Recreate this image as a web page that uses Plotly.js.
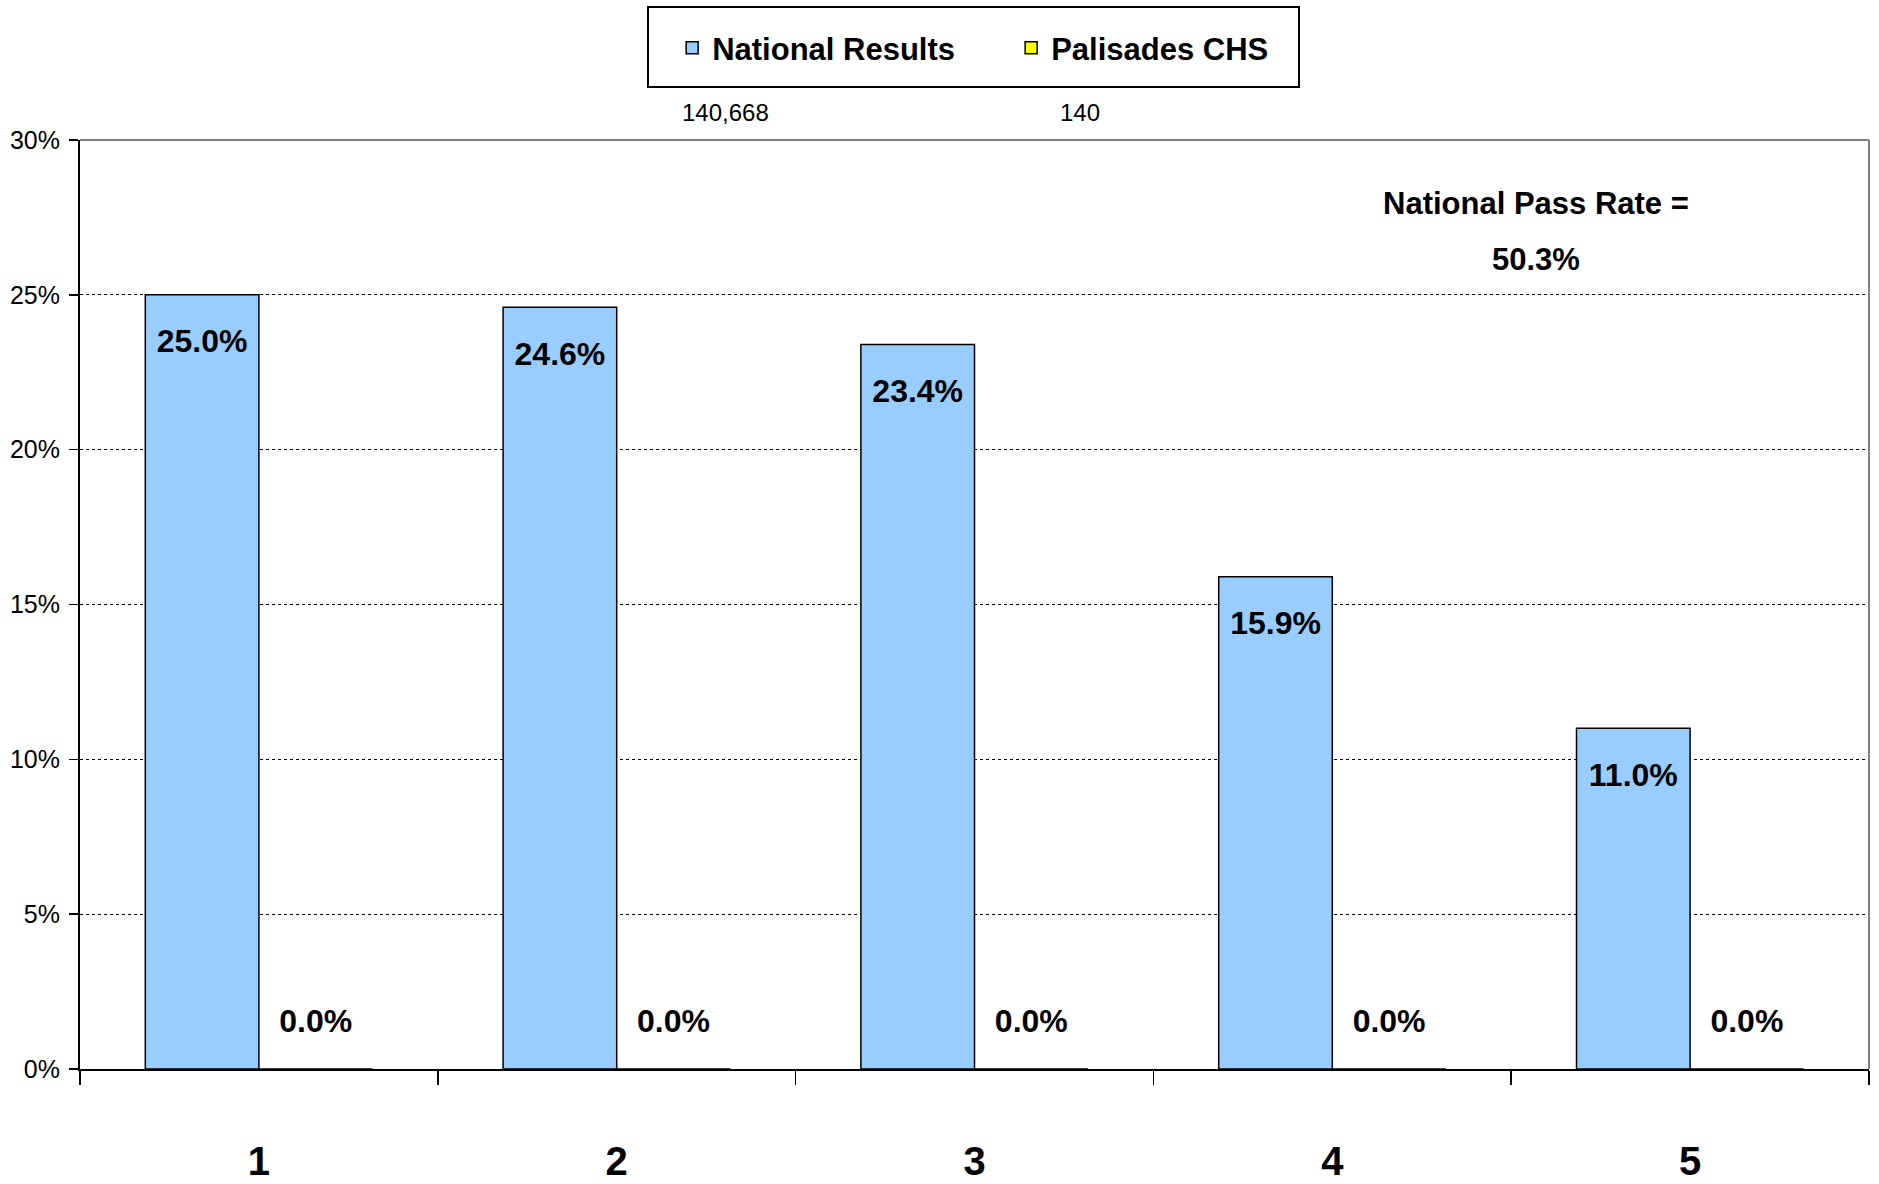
<!DOCTYPE html>
<html>
<head>
<meta charset="utf-8">
<script src="https://cdn.plot.ly/plotly-3.0.1.min.js"></script>
<style>html,body{margin:0;padding:0;background:#fff;}#chart{width:1879px;height:1184px;}</style>
</head>
<body>
<div id="chart"></div>
<script>
const categories = ["1", "2", "3", "4", "5"];
const nationalResults = [25.0, 24.6, 23.4, 15.9, 11.0];
const palisadesCHS = [0.0, 0.0, 0.0, 0.0, 0.0];
const seriesNames = ["National Results", "Palisades CHS"];
const sampleSizes = ["140,668", "140"];
const passRateLines = ["National Pass Rate =", "50.3%"];
const yTickVals = [0, 5, 10, 15, 20, 25, 30];
const yTickText = ["0%", "5%", "10%", "15%", "20%", "25%", "30%"];

const BOLD = '"Liberation Sans", Arial, sans-serif';
const REG = '"Liberation Sans", Arial, sans-serif';

const traces = [
  {
    type: 'bar', name: seriesNames[0], x: categories, y: nationalResults,
    marker: {color: '#99CCFF', line: {color: '#000', width: 1.5}},
    texttemplate: '<span style="font-size:14px"> </span><br>%{y:.1f}%', textposition: 'inside', insidetextanchor: 'end',
    textangle: 0, constraintext: 'none',
    insidetextfont: {family: BOLD, size: 32, color: '#000', weight: 'bold'},
    cliponaxis: false, hoverinfo: 'skip'
  },
  {
    type: 'bar', name: seriesNames[1], x: categories, y: palisadesCHS,
    marker: {color: '#FFFF00', line: {color: '#000', width: 1.5}},
    texttemplate: '<span style="font-size:32px">%{y:.1f}%</span><br> ', textposition: 'outside',
    textangle: 0, constraintext: 'none',
    outsidetextfont: {family: BOLD, size: 22, color: '#000', weight: 'bold'},
    cliponaxis: false, hoverinfo: 'skip'
  }
];

const layout = {
  width: 1879, height: 1184,
  margin: {l: 80, r: 10, t: 140, b: 115},
  paper_bgcolor: '#fff', plot_bgcolor: '#fff',
  barmode: 'group', bargap: 0.365, bargroupgap: 0,
  showlegend: true,
  legend: {
    orientation: 'h', x: 0.331, xanchor: 'left', y: 1.099, yanchor: 'middle',
    borderwidth: 0, bgcolor: 'rgba(0,0,0,0)',
    font: {family: BOLD, size: 31, color: '#000', weight: 'bold'},
    traceorder: 'normal', entrywidth: 294, itemclick: false
  },
  xaxis: {
    type: 'category', showgrid: false, zeroline: false,
    showline: true, linecolor: '#000', linewidth: 2,
    ticks: 'outside', tickson: 'boundaries', ticklen: 14, tickcolor: '#000', tickwidth: 1.5,
    ticklabelstandoff: 56,
    tickfont: {family: BOLD, size: 40, color: '#000', weight: 'bold'}
  },
  yaxis: {
    range: [0, 30], tickvals: yTickVals, ticktext: yTickText,
    showgrid: true, gridcolor: '#000', griddash: 'dot', gridwidth: 1,
    zeroline: false, showline: true, linecolor: '#000', linewidth: 2,
    ticks: 'outside', ticklen: 9, tickcolor: '#000', tickwidth: 1.5,
    ticklabelstandoff: 4,
    tickfont: {family: REG, size: 25, color: '#000'}
  },
  shapes: [
    {type: 'line', xref: 'paper', yref: 'paper', x0: 0, x1: 1, y0: 1, y1: 1, line: {color: '#808080', width: 2}, layer: 'above'},
    {type: 'line', xref: 'paper', yref: 'paper', x0: 1, x1: 1, y0: 0, y1: 1, line: {color: '#808080', width: 2}, layer: 'above'},
    {type: 'rect', xref: 'paper', yref: 'paper', x0: 0.3175, x1: 0.6814, y0: 1.0570, y1: 1.1432, line: {color: '#000', width: 2}, fillcolor: 'rgba(0,0,0,0)', layer: 'above'}
  ],
  annotations: [
    {xref: 'paper', yref: 'paper', x: 0.361, y: 1.03, xanchor: 'center', yanchor: 'middle', text: sampleSizes[0], showarrow: false,
     font: {family: REG, size: 24, color: '#000'}},
    {xref: 'paper', yref: 'paper', x: 0.559, y: 1.03, xanchor: 'center', yanchor: 'middle', text: sampleSizes[1], showarrow: false,
     font: {family: REG, size: 24, color: '#000'}},
    {xref: 'paper', yref: 'paper', x: 0.814, y: 0.901, xanchor: 'center', yanchor: 'middle',
     text: passRateLines.map(s => '<span style="font-size:31px">' + s + '</span>').join('<br>'), showarrow: false,
     font: {family: BOLD, size: 43, color: '#000', weight: 'bold'}}
  ]
};

Plotly.newPlot('chart', traces, layout, {displayModeBar: false, staticPlot: true});
</script>
</body>
</html>
